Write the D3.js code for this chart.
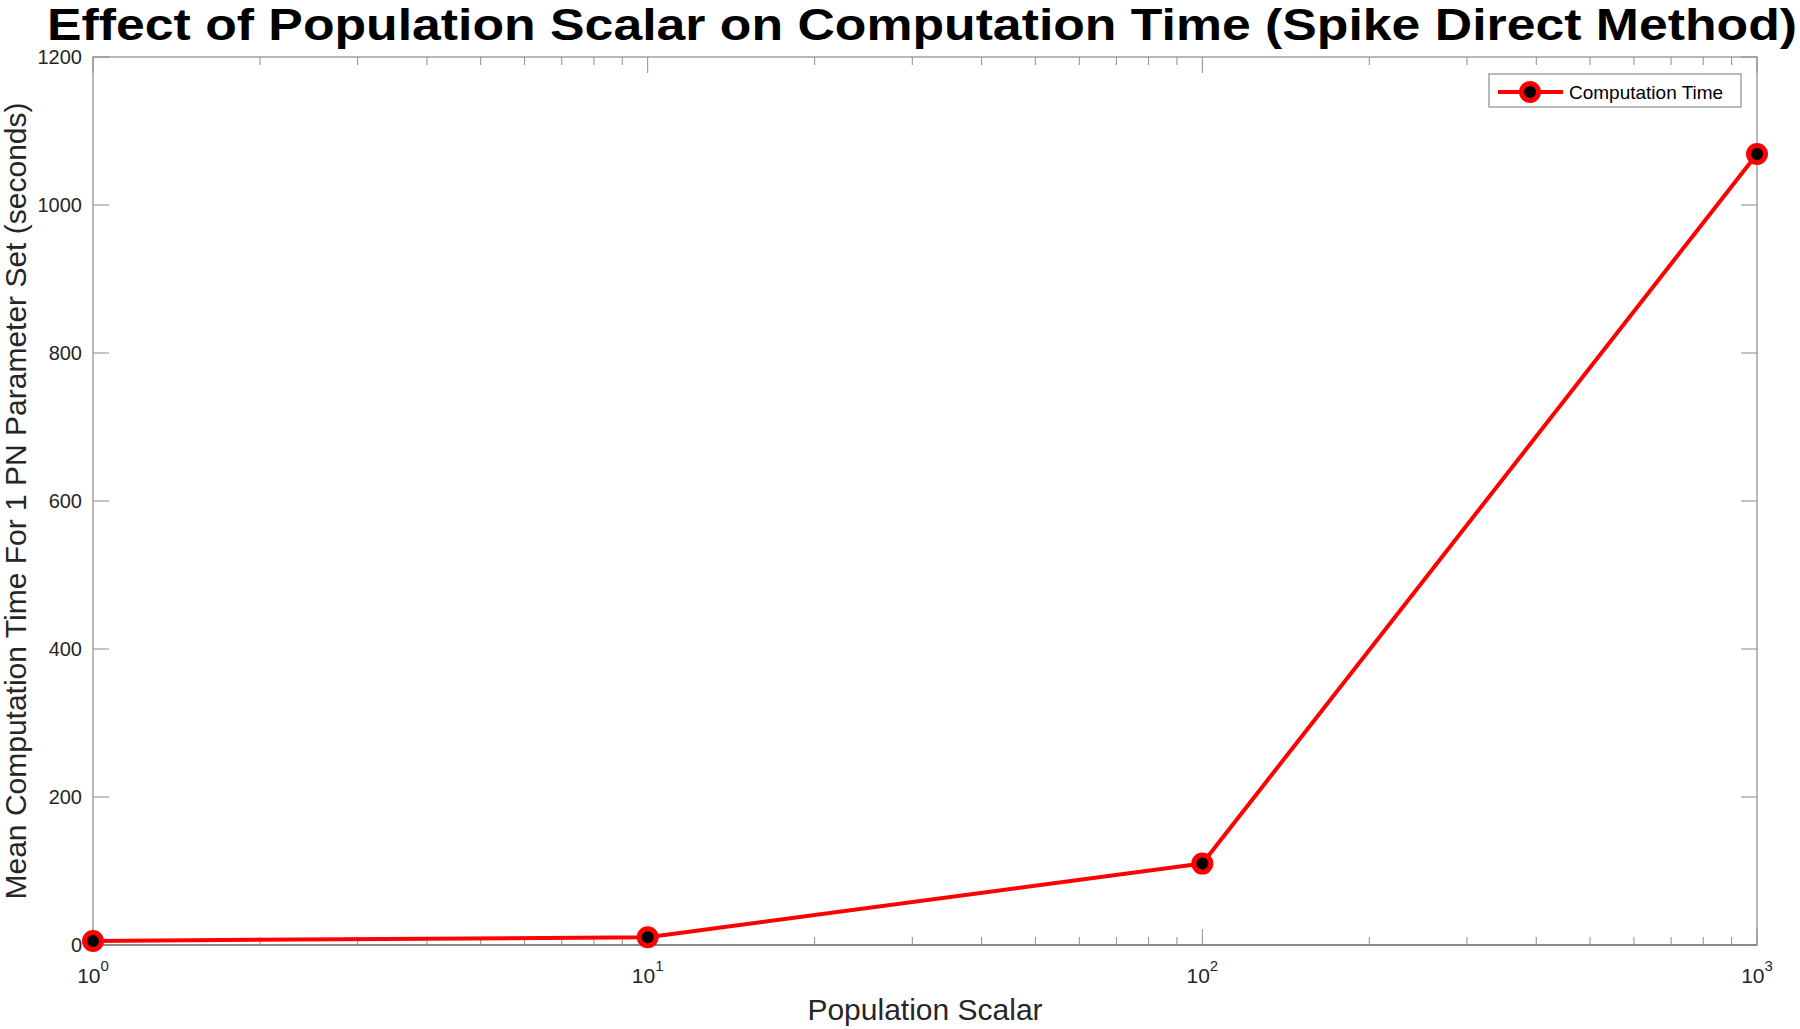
<!DOCTYPE html>
<html>
<head>
<meta charset="utf-8">
<script src="https://cdn.jsdelivr.net/npm/d3@7"></script>
<style>
	body { margin: 0; background: #fff; }
	text { font-family: 'Liberation Sans', Arial, Helvetica, sans-serif; }
</style>
</head>
<body>
<div id="chart"></div>
<script>
var scalars = [1, 10, 100, 1000];
var compTime = [5.5, 10.5, 110, 1069];
var yTicks = [0, 200, 400, 600, 800, 1000, 1200];
var xTicks = [1, 10, 100, 1000];
var seriesName = 'Computation Time';

var width = 1800;
var height = 1029;
var margin = {left: 93, right: 43, top: 57, bottom: 84};
var plotW = width - margin.left - margin.right;
var plotH = height - margin.top - margin.bottom;
var axisColor = '#8c8c8c';
var labelColor = '#262626';

var svg = d3.select('#chart')
	.append('svg')
	.attr('width', width)
	.attr('height', height);

var x = d3.scaleLog()
	.domain([1, 1000])
	.range([margin.left, margin.left + plotW]);

var y = d3.scaleLinear()
	.domain([0, 1200])
	.range([margin.top + plotH, margin.top]);

// minor log ticks 2..9 per decade
var minorTicks = [];
xTicks.slice(0, -1).forEach(function(d){
	for (var k = 2; k < 10; k++) minorTicks.push(d * k);
});

var g = svg.append('g');

// box
g.append('rect')
	.attr('x', margin.left)
	.attr('y', margin.top)
	.attr('width', plotW)
	.attr('height', plotH)
	.attr('fill', 'none')
	.attr('stroke', axisColor)
	.attr('stroke-width', 1.2);

g.append('line')
	.attr('x1', margin.left).attr('x2', margin.left + plotW)
	.attr('y1', y(0)).attr('y2', y(0))
	.attr('stroke', '#5a5a5a')
	.attr('stroke-width', 1.2);

// x ticks (bottom and top, inward)
var bottomY = y(0), topY = margin.top;
g.selectAll('.xmajor')
	.data(xTicks)
	.enter()
	.append('path')
	.attr('d', function(d){
		var px = x(d);
		return 'M' + px + ',' + bottomY + 'v-16M' + px + ',' + topY + 'v16';
	})
	.attr('stroke', axisColor);

g.selectAll('.xminor')
	.data(minorTicks)
	.enter()
	.append('path')
	.attr('d', function(d){
		var px = x(d);
		return 'M' + px + ',' + bottomY + 'v-8M' + px + ',' + topY + 'v8';
	})
	.attr('stroke', axisColor);

// y ticks (left and right)
var leftX = margin.left, rightX = margin.left + plotW;
g.selectAll('.ytick')
	.data(yTicks)
	.enter()
	.append('path')
	.attr('d', function(d){
		var py = y(d);
		return 'M' + leftX + ',' + py + 'h16M' + rightX + ',' + py + 'h-16';
	})
	.attr('stroke', axisColor);

// y tick labels
g.selectAll('.ylab')
	.data(yTicks)
	.enter()
	.append('text')
	.attr('x', leftX - 11)
	.attr('y', function(d){ return y(d); })
	.attr('dy', '0.35em')
	.attr('text-anchor', 'end')
	.attr('font-size', 20)
	.attr('fill', labelColor)
	.text(function(d){ return d; });

// x tick labels 10^n
var xl = g.selectAll('.xlab')
	.data(xTicks)
	.enter()
	.append('text')
	.attr('x', function(d){ return x(d); })
	.attr('y', 983)
	.attr('text-anchor', 'middle')
	.attr('font-size', 21)
	.attr('fill', labelColor);
xl.append('tspan').text('10');
xl.append('tspan')
	.attr('dy', -12)
	.attr('font-size', 15)
	.text(function(d){ return Math.round(Math.log10(d)); });

// line + markers
var line = d3.line()
	.x(function(d, i){ return x(scalars[i]); })
	.y(function(d){ return y(d); });

g.append('path')
	.datum(compTime)
	.attr('d', line)
	.attr('fill', 'none')
	.attr('stroke', '#ff0000')
	.attr('stroke-width', 4)
	.attr('stroke-linejoin', 'round');

g.selectAll('.pt')
	.data(compTime)
	.enter()
	.append('circle')
	.attr('cx', function(d, i){ return x(scalars[i]); })
	.attr('cy', function(d){ return y(d); })
	.attr('r', 8.5)
	.attr('fill', '#000')
	.attr('stroke', '#ff0000')
	.attr('stroke-width', 5);

// legend
var legend = svg.append('g').attr('transform', 'translate(1489,74)');
legend.append('rect')
	.attr('width', 252)
	.attr('height', 33)
	.attr('fill', '#fff')
	.attr('stroke', '#8c8c8c')
	.attr('stroke-width', 1.2);
legend.append('line')
	.attr('x1', 9).attr('x2', 74)
	.attr('y1', 18).attr('y2', 18)
	.attr('stroke', '#ff0000')
	.attr('stroke-width', 4);
legend.append('circle')
	.attr('cx', 41).attr('cy', 18)
	.attr('r', 8.5)
	.attr('fill', '#000')
	.attr('stroke', '#ff0000')
	.attr('stroke-width', 5);
legend.append('text')
	.attr('x', 80)
	.attr('y', 18)
	.attr('dy', '0.35em')
	.attr('font-size', 19)
	.attr('fill', '#000')
	.text(seriesName);

// title and axis labels
svg.append('text')
	.attr('x', 922)
	.attr('y', 40)
	.attr('text-anchor', 'middle')
	.attr('font-size', 44)
	.attr('font-weight', 'bold')
	.attr('fill', '#000')
	.attr('textLength', 1750)
	.attr('lengthAdjust', 'spacingAndGlyphs')
	.text('Effect of Population Scalar on Computation Time (Spike Direct Method)');

svg.append('text')
	.attr('x', margin.left + plotW / 2)
	.attr('y', 1020)
	.attr('text-anchor', 'middle')
	.attr('font-size', 30)
	.attr('fill', labelColor)
	.text('Population Scalar');

svg.append('text')
	.attr('transform', 'translate(26,' + (margin.top + plotH / 2) + ') rotate(-90)')
	.attr('text-anchor', 'middle')
	.attr('font-size', 30)
	.attr('fill', labelColor)
	.text('Mean Computation Time For 1 PN Parameter Set (seconds)');
</script>
</body>
</html>
